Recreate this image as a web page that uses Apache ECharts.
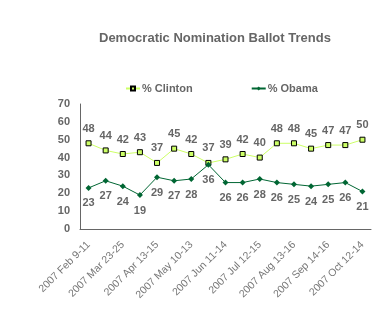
<!DOCTYPE html>
<html><head><meta charset="utf-8">
<script src="https://cdn.jsdelivr.net/npm/echarts@6/dist/echarts.min.js"></script>
<style>html,body{margin:0;padding:0;background:#fff;}#c{width:387px;height:324px;}</style>
</head><body><div id="c"></div>
<script>
var categories = ["2007 Feb 9-11","2007 Mar 2-4","2007 Mar 23-25","2007 Apr 2-5","2007 Apr 13-15","2007 May 4-6","2007 May 10-13","2007 Jun 1-3","2007 Jun 11-14","2007 Jun 26-27","2007 Jul 12-15","2007 Aug 3-5","2007 Aug 13-16","2007 Sep 7-8","2007 Sep 14-16","2007 Oct 4-7","2007 Oct 12-14"];
var clinton = [48,44,42,43,37,45,42,37,39,42,40,48,48,45,47,47,50];
var obama = [23,27,24,19,29,27,28,36,26,26,28,26,25,24,25,26,21];
var yTicks = [0,10,20,30,40,50,60,70];

var chart = echarts.init(document.getElementById('c'));
var gray = '#666666';
chart.setOption({
  animation: false,
  title: {text: 'Democratic Nomination Ballot Trends', left: 94, top: 27,
    textStyle: {fontFamily: 'Liberation Sans, Arial', fontSize: 13, fontWeight: 'bold', color: gray}},
  legend: {top: 78, left: 120, itemGap: 58, itemWidth: 14, itemHeight: 5,
    textStyle: {fontFamily: 'Liberation Sans, Arial', fontSize: 11, fontWeight: 'bold', color: gray, padding: [0,0,0,-3]},
    data: ['% Clinton', '% Obama']},
  grid: {left: 80, right: 16, top: 104, bottom: 95},
  xAxis: {type: 'category', data: categories, boundaryGap: true,
    axisLine: {lineStyle: {color: gray, width: 1}}, axisTick: {show: false},
    axisLabel: {interval: 1, rotate: 45, fontFamily: 'Liberation Sans, Arial', fontSize: 10.5, color: '#777', margin: 14}},
  yAxis: {type: 'value', min: yTicks[0], max: yTicks[yTicks.length-1], interval: 10, splitLine: {show: false},
    axisLine: {show: true, lineStyle: {color: gray, width: 1}}, axisTick: {show: false},
    axisLabel: {fontFamily: 'Liberation Sans, Arial', fontSize: 11, fontWeight: 'bold', color: gray, margin: 10}},
  series: [
    {name: '% Clinton', type: 'line', data: clinton, symbol: 'rect', symbolSize: 5,
      lineStyle: {color: '#ccff66', width: 1}, itemStyle: {color: '#ccff66', borderColor: '#000', borderWidth: 1},
      label: {show: true, position: 'top', distance: 6, fontFamily: 'Liberation Sans, Arial', fontSize: 11, fontWeight: 'bold', color: gray}},
    {name: '% Obama', type: 'line', data: obama, symbol: 'diamond', symbolSize: 6,
      lineStyle: {color: '#006633', width: 1}, itemStyle: {color: '#006633'},
      label: {show: true, position: 'bottom', distance: 7, fontFamily: 'Liberation Sans, Arial', fontSize: 11, fontWeight: 'bold', color: gray}}
  ]
});
</script></body></html>
